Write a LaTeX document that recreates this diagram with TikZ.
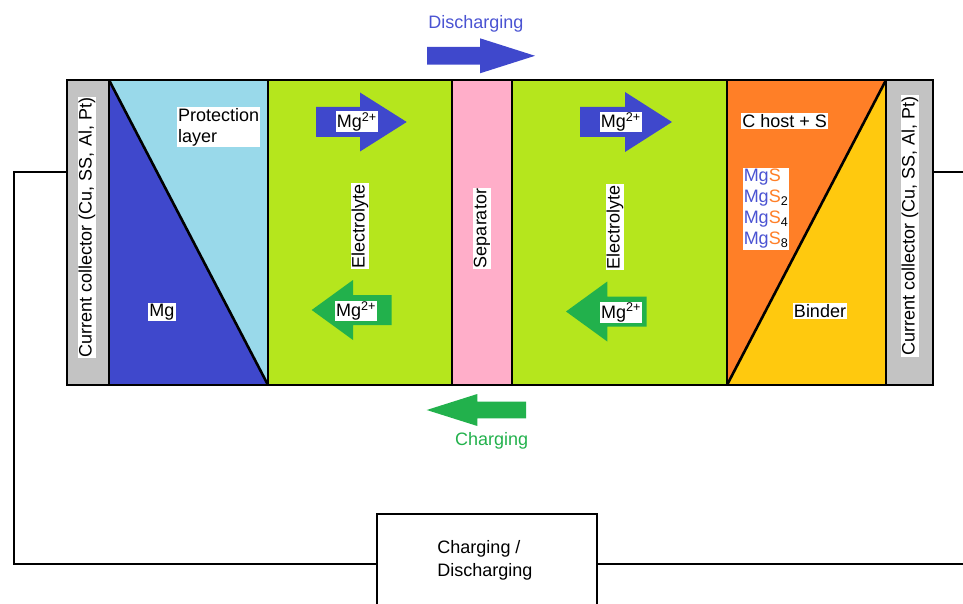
\documentclass[tikz,border=0pt]{standalone}
\usepackage{fontspec}
\setmainfont{Liberation Sans}
\newcommand\labfont{\fontsize{18}{21}\selectfont}
\definecolor{ccgray}{HTML}{C3C3C3}
\definecolor{protblue}{HTML}{99D9EA}
\definecolor{mgblue}{HTML}{3F48CC}
\definecolor{txtblue}{HTML}{4A53D2}
\definecolor{elgreen}{HTML}{B5E61D}
\definecolor{seppink}{HTML}{FFAEC9}
\definecolor{cathorange}{HTML}{FF7F27}
\definecolor{bindyellow}{HTML}{FFC90E}
\definecolor{arrgreen}{HTML}{22B14C}
\begin{document}
\begin{tikzpicture}[x=1pt,y=-1pt,
  layer/.style={inner sep=0pt,outer sep=0pt,minimum height=305pt},
  edgeline/.style={line width=2.6pt},
  wire/.style={line width=2.4pt},
  lbl/.style={fill=white,inner sep=1pt,font=\labfont,text=black}]
\useasboundingbox (0,0) rectangle (963,604);
% layers
\node[layer,fill=ccgray,minimum width=42pt] (ccL) at (88,232.5) {};
\node[layer,fill=protblue,minimum width=159pt] (anode) at (188.5,232.5) {};
\node[layer,fill=elgreen,minimum width=184pt] (elL) at (360,232.5) {};
\node[layer,fill=seppink,minimum width=60pt] (sep) at (482,232.5) {};
\node[layer,fill=elgreen,minimum width=215pt] (elR) at (619.5,232.5) {};
\node[layer,fill=cathorange,minimum width=159pt] (cath) at (806.5,232.5) {};
\node[layer,fill=ccgray,minimum width=47pt] (ccR) at (909.5,232.5) {};
% triangles
\fill[mgblue] (anode.north west) -- (anode.south east) -- (anode.south west) -- cycle;
\fill[bindyellow] (cath.south west) -- (cath.north east) -- (cath.south east) -- cycle;
\draw[edgeline] (anode.north west) -- (anode.south east);
\draw[edgeline] (cath.south west) -- (cath.north east);
% borders
\draw[edgeline] (ccL.north west) rectangle (ccR.south east);
\foreach \n in {anode,elL,sep,elR,cath,ccR} \draw[edgeline] (\n.north west) -- (\n.south west);
% block arrows
\fill[mgblue] (316,107) -- (360,107) -- (360,92.5) -- (406.7,122) -- (360,151.5) -- (360,137) -- (316,137) -- cycle;
\fill[arrgreen] (391.7,295) -- (353,295) -- (353,280) -- (311.7,310) -- (353,340) -- (353,325) -- (391.7,325) -- cycle;
\fill[mgblue] (580,107) -- (625,107) -- (625,92) -- (672,122) -- (625,152) -- (625,137) -- (580,137) -- cycle;
\fill[arrgreen] (646.7,296.5) -- (607.3,296.5) -- (607.3,281.5) -- (566,311.5) -- (607.3,341.5) -- (607.3,326.5) -- (646.7,326.5) -- cycle;
\fill[mgblue] (427,47) -- (480,47) -- (480,38.3) -- (535,55.8) -- (480,73.3) -- (480,64.6) -- (427,64.6) -- cycle;
\fill[arrgreen] (526,401.7) -- (477.3,401.7) -- (477.3,394) -- (426.7,410) -- (477.3,426) -- (477.3,418.3) -- (526,418.3) -- cycle;
% labels
\node[lbl,rotate=90] (ccLt) at (87,227.5) {Current collector (Cu, SS, Al, Pt)};
\node[lbl,rotate=90] (ccRt) at (910,226) {Current collector (Cu, SS, Al, Pt)};
\node[lbl,align=left] (prot) at (218.7,127.3) {Protection\\layer};
\node[lbl] (mg) at (162,312) {Mg};
\node[lbl,rotate=90] (elLt) at (360,226) {Electrolyte};
\node[lbl,rotate=90] (sept) at (482,228.5) {Separator};
\node[lbl,rotate=90] (elRt) at (615,227) {Electrolyte};
\node[lbl] (chost) at (784.7,121) {C host + S};
\node[lbl,align=left] (mgs) at (766,209) {\textcolor{txtblue}{Mg}\textcolor{cathorange}{S}\\\textcolor{txtblue}{Mg}\textcolor{cathorange}{S}\textsubscript{2}\\\textcolor{txtblue}{Mg}\textcolor{cathorange}{S}\textsubscript{4}\\\textcolor{txtblue}{Mg}\textcolor{cathorange}{S}\textsubscript{8}};
\node[lbl] (binder) at (820,311) {Binder};
\node[lbl] (ionL1) at (356.7,121.7) {Mg\textsuperscript{2+}};
\node[lbl] (ionL2) at (356,311) {Mg\textsuperscript{2+}};
\node[lbl] (ionR1) at (620.7,122) {Mg\textsuperscript{2+}};
\node[lbl] (ionR2) at (621,312.5) {Mg\textsuperscript{2+}};
\node[font=\labfont,text=txtblue,inner sep=0pt] (dis) at (476,24) {Discharging};
\node[font=\labfont,text=arrgreen,inner sep=0pt] (chg) at (491.7,440.7) {Charging};
% circuit
\node[draw,line width=2.4pt,minimum width=220pt,minimum height=100pt,inner sep=0pt] (psu) at (487,564) {};
\node[font=\fontsize{18}{23}\selectfont,align=left,inner sep=0pt] (psut) at (485,560.5) {Charging /\\Discharging};
\coordinate (wL) at (14,172);
\coordinate (wR) at (963,172);
\coordinate (wB) at (963,564);
\draw[wire] (ccL.west |- wL) -- (wL) |- (psu.west);
\draw[wire] (ccR.east |- wR) -- (wR);
\draw[wire] (psu.east) -- (wB);
\end{tikzpicture}
\end{document}
